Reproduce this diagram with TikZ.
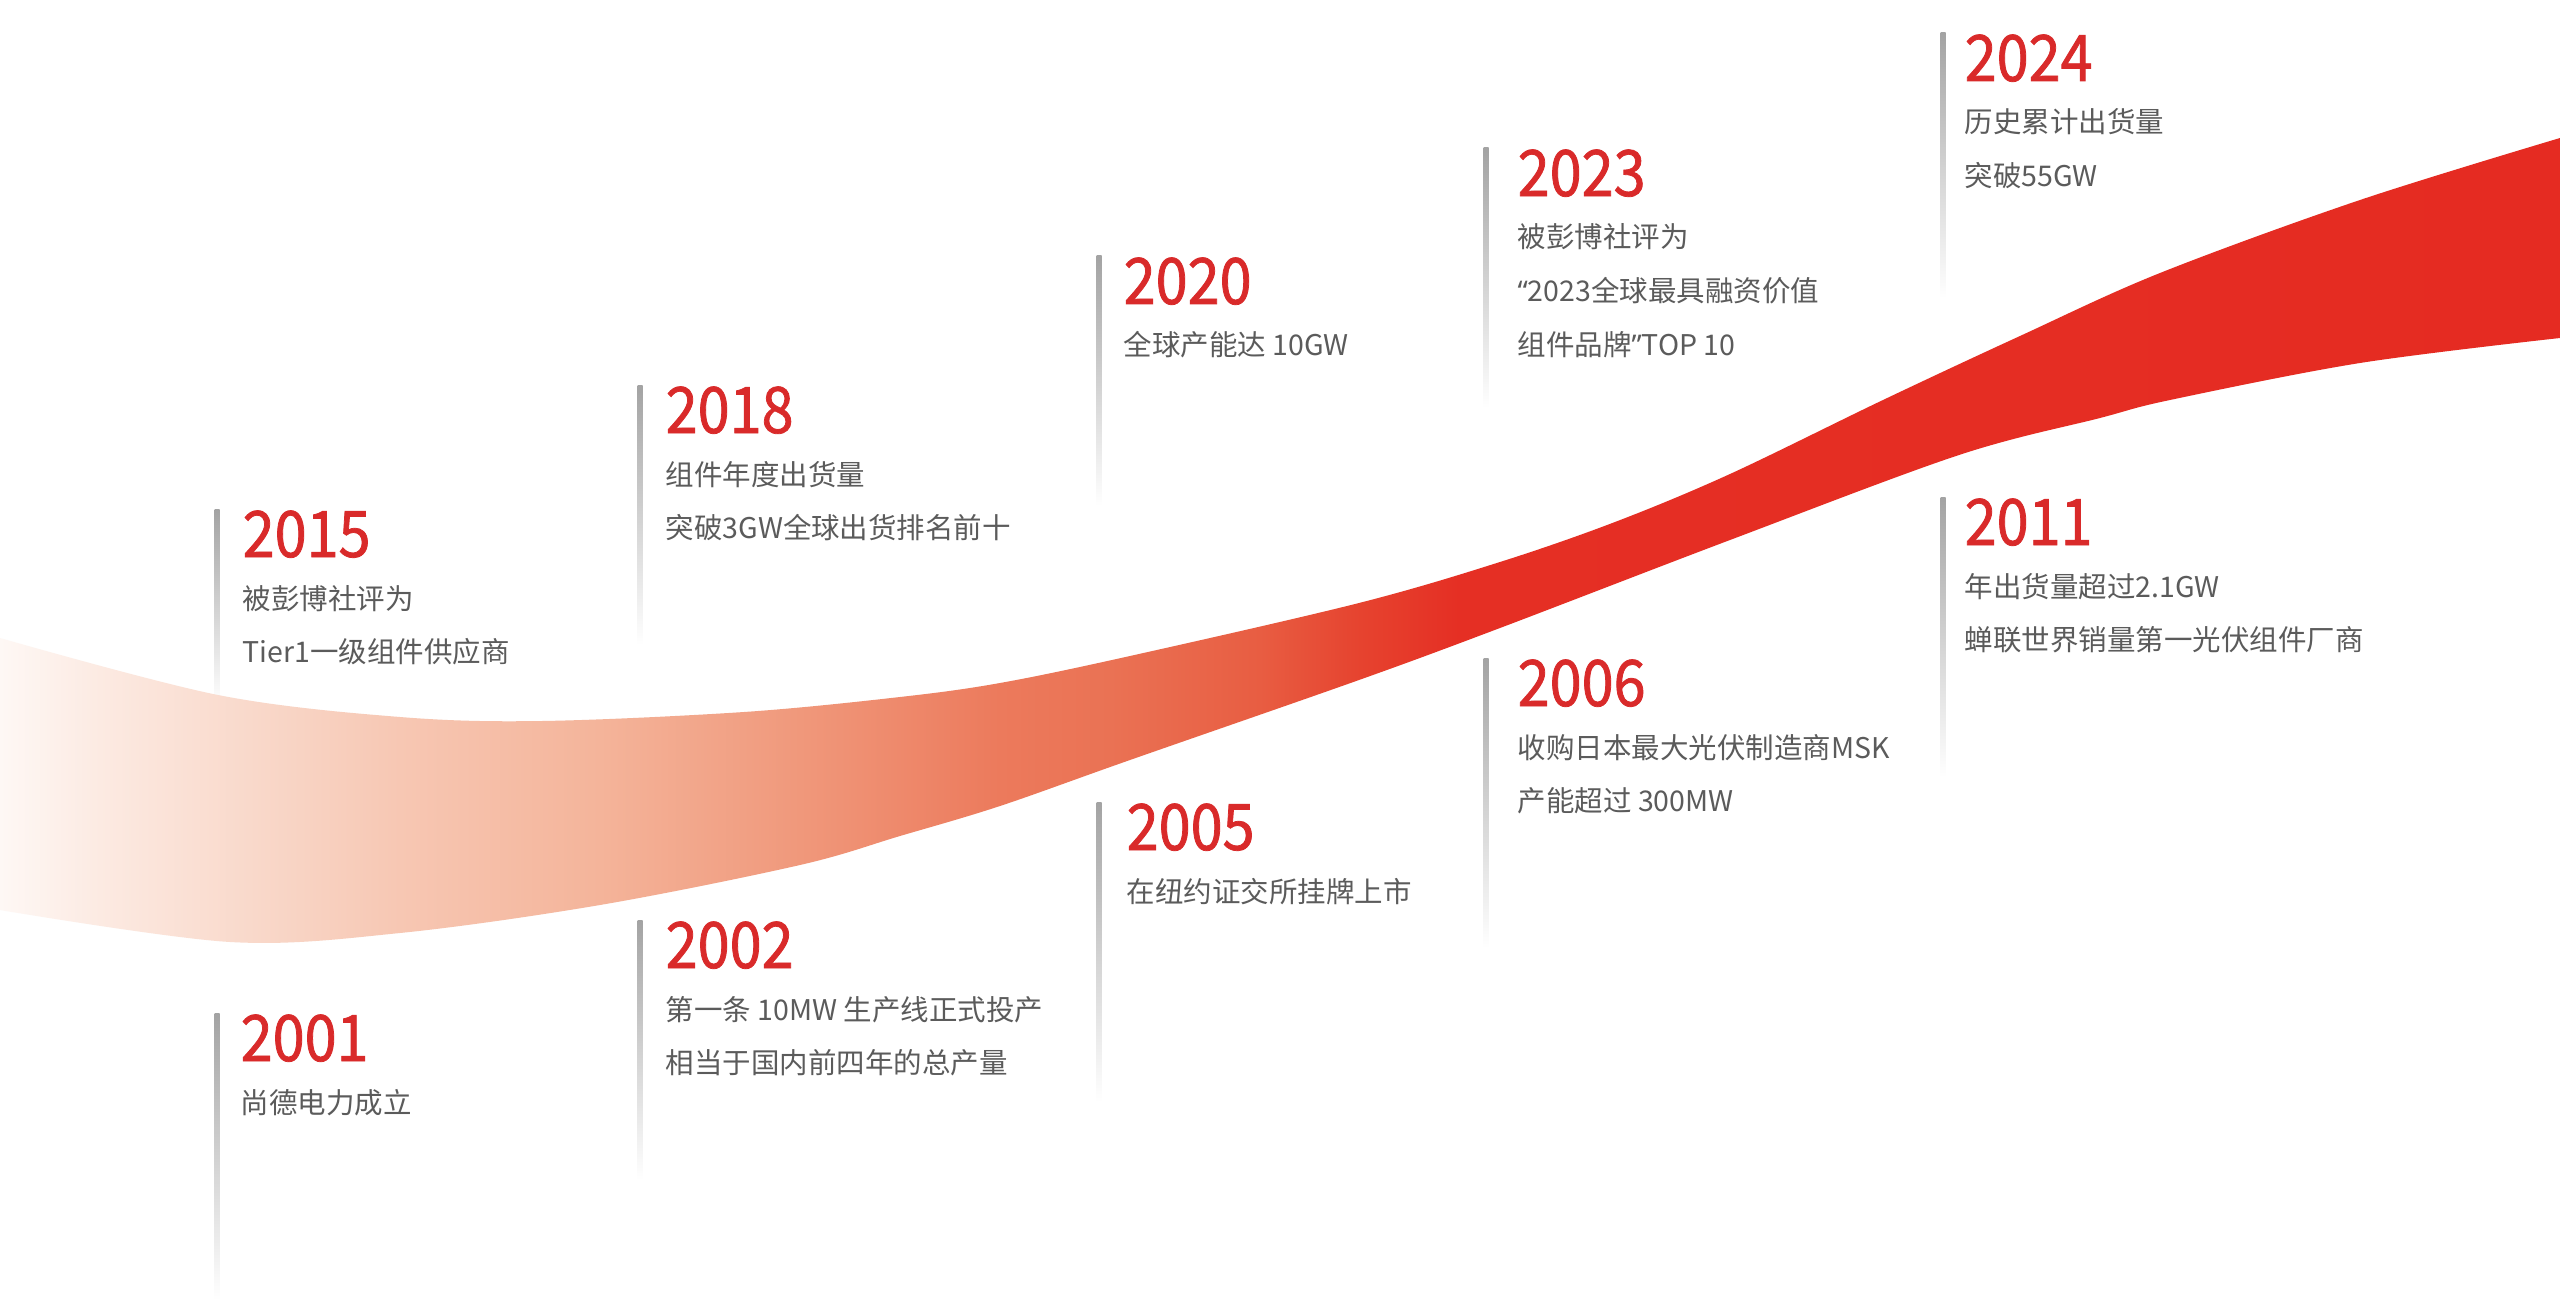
\documentclass[tikz,border=0pt]{standalone}
\usepackage{fontspec}
\setmainfont{Noto Sans CJK SC}
\newfontfamily\yearfont[FakeBold=1.2,FakeStretch=0.9]{Noto Sans CJK SC}
\newfontfamily\latq{Noto Sans}
\definecolor{yearred}{HTML}{D92A2A}
\definecolor{descgray}{HTML}{5B5B5B}
\definecolor{bargray}{HTML}{A3A3A3}
\definecolor{r0}{HTML}{FEF8F5}
\definecolor{r1}{HTML}{FCEAE2}
\definecolor{r2}{HTML}{F8D3C3}
\definecolor{r3}{HTML}{F7C7B3}
\definecolor{r4}{HTML}{F4B49A}
\definecolor{r5}{HTML}{F0987B}
\definecolor{r6}{HTML}{EC7A5C}
\definecolor{r7}{HTML}{EA7254}
\definecolor{r8}{HTML}{E85D42}
\definecolor{r9}{HTML}{E6432F}
\definecolor{r10}{HTML}{E52F24}
\definecolor{r11}{HTML}{E52B22}
% position (bp) = 25 + x/51.2
\pgfdeclarehorizontalshading{ribbonshade}{100bp}{color(0bp)=(r0); color(25bp)=(r0); color(26.95bp)=(r1); color(30.86bp)=(r2); color(32.81bp)=(r3); color(36.72bp)=(r4); color(40.63bp)=(r5); color(44.53bp)=(r6); color(46.68bp)=(r7); color(49.6bp)=(r8); color(51.56bp)=(r9); color(53.5bp)=(r10); color(75bp)=(r11); color(100bp)=(r11)}
\begin{document}
\begin{tikzpicture}[x=0.01cm,y=-0.01cm,
  yearlbl/.style={anchor=base west,inner sep=0,text=yearred,font=\yearfont\fontsize{18.2}{18.2}\selectfont},
  desc/.style={anchor=base west,inner sep=0,text=descgray,font=\fontsize{8.1}{10}\selectfont},
  tickbar/.style={top color=bargray,bottom color=white,draw=none}]
\useasboundingbox[fill=white] (0,0) rectangle (2560,1300);

% vertical tick bars
\shade[tickbar] (214.5,509) rectangle (219.5,704);
\shade[tickbar] (214.5,1013) rectangle (219.5,1300);
\shade[tickbar] (637.5,385) rectangle (642.5,645);
\shade[tickbar] (637.5,920) rectangle (642.5,1180);
\shade[tickbar] (1096.5,256) rectangle (1101.5,506);
\shade[tickbar] (1096.5,802) rectangle (1101.5,1102);
\shade[tickbar] (1483.5,148) rectangle (1488.5,408);
\shade[tickbar] (1483.5,658) rectangle (1488.5,948);
\shade[tickbar] (1940.5,33) rectangle (1945.5,298);
\shade[tickbar] (1940.5,497) rectangle (1945.5,777);

% ribbon
\shade[shading=ribbonshade]
  plot[smooth,tension=0.55] coordinates {(0,638) (218,695) (400,717) (542,721) (744,712) (900,697) (1000,683) (1130,656) (1359,603) (1500,562) (1615,522) (1730,474) (1883,400) (2020,336) (2160,273) (2360,200) (2560,138)}
  -- plot[smooth,tension=0.55] coordinates {(2560,338) (2360,363) (2170,400) (2100,418) (1959,455) (1730,540) (1500,628) (1359,680) (1130,760) (1000,806) (900,836) (800,865) (600,905) (400,933) (230,942) (0,910)}
  -- cycle;

% 2015
\node[yearlbl] (y2015) at (242,557) {2015};
\node[desc] (t2015a) at (242,609) {被彭博社评为};
\node[desc] (t2015b) at (242,662.5) {Tier1一级组件供应商};
% 2001
\node[yearlbl] (y2001) at (240,1061) {2001};
\node[desc] (t2001a) at (240,1113) {尚德电力成立};
% 2018
\node[yearlbl] (y2018) at (665,433) {2018};
\node[desc] (t2018a) at (665,485) {组件年度出货量};
\node[desc] (t2018b) at (665,538.5) {突破3GW全球出货排名前十};
% 2002
\node[yearlbl] (y2002) at (665,968) {2002};
\node[desc] (t2002a) at (665,1020) {第一条 10MW 生产线正式投产};
\node[desc] (t2002b) at (665,1073.5) {相当于国内前四年的总产量};
% 2020
\node[yearlbl] (y2020) at (1123,304) {2020};
\node[desc] (t2020a) at (1123,356) {全球产能达 10GW};
% 2005
\node[yearlbl] (y2005) at (1126,850) {2005};
\node[desc] (t2005a) at (1126,902) {在纽约证交所挂牌上市};
% 2023
\node[yearlbl] (y2023) at (1517,196) {2023};
\node[desc] (t2023a) at (1517,248) {被彭博社评为};
\node[desc] (t2023b) at (1517,301.5) {{\latq “}2023全球最具融资价值};
\node[desc] (t2023c) at (1517,355) {组件品牌{\latq ”}TOP 10};
% 2006
\node[yearlbl] (y2006) at (1517,706) {2006};
\node[desc] (t2006a) at (1517,758) {收购日本最大光伏制造商MSK};
\node[desc] (t2006b) at (1517,811.5) {产能超过 300MW};
% 2024
\node[yearlbl] (y2024) at (1964,81) {2024};
\node[desc] (t2024a) at (1964,133) {历史累计出货量};
\node[desc] (t2024b) at (1964,186.5) {突破55GW};
% 2011
\node[yearlbl] (y2011) at (1964,545) {2011};
\node[desc] (t2011a) at (1964,597) {年出货量超过2.1GW};
\node[desc] (t2011b) at (1964,650.5) {蝉联世界销量第一光伏组件厂商};
\end{tikzpicture}
\end{document}
